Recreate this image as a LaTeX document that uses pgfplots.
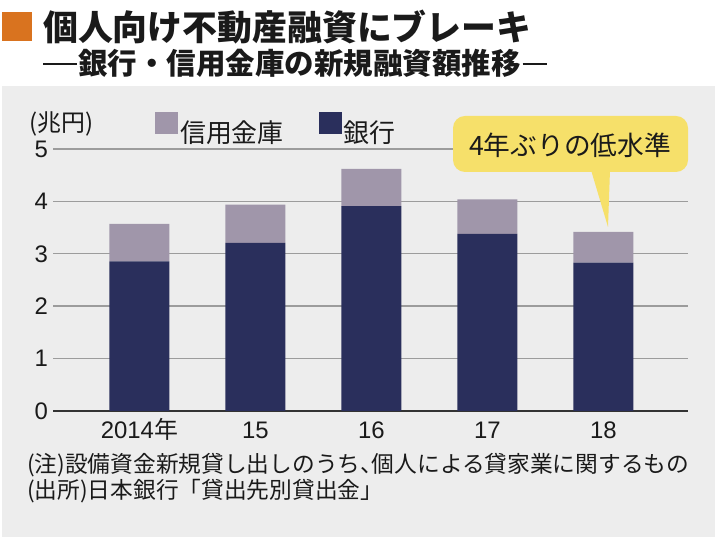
\documentclass[border=0pt]{standalone}
\usepackage{fontspec}
\setmainfont{Liberation Sans}
\newfontfamily\jp{Noto Sans CJK JP}
\usepackage{pgfplots}
\pgfplotsset{compat=1.18}
\definecolor{bank}{HTML}{2A2F5C}
\definecolor{shin}{HTML}{A096AA}
\definecolor{panel}{HTML}{EDEDED}
\definecolor{orng}{HTML}{D9731F}
\definecolor{callout}{HTML}{F6E06A}
\definecolor{txt}{HTML}{1A1A1A}
\definecolor{gridc}{HTML}{9C9C9C}
\newcommand\fs[1]{\fontsize{#1}{#1}\selectfont}
\begin{document}
\begin{tikzpicture}[x=1bp,y=1bp]
\path[use as bounding box] (0,0) rectangle (720,552);
\fill[white] (0,0) rectangle (720,552);
\fill[panel] (2,15) rectangle (715,466);
\fill[orng] (2,511) rectangle (32,540);
\node[anchor=west, inner sep=0pt, text=txt] at (43,525) {\jp\bfseries\fs{35}個人向け不動産融資にブレーキ};
\node[anchor=west, inner sep=0pt, text=txt] at (43,488.5) {\jp\bfseries\fs{29.6}\rule[10bp]{34bp}{1.8bp}\hspace{1bp}銀行・信用金庫の新規融資額推移\hspace{2bp}\rule[10bp]{24bp}{1.8bp}};
\node[anchor=west, inner sep=0pt, text=txt] at (29,428.5) {\jp\fs{24}(兆円)};
\begin{axis}[
  at={(53bp,141bp)}, anchor=south west,
  scale only axis, width=635bp, height=262bp,
  xmin=-0.745, xmax=4.73, ymin=0, ymax=5,
  ybar stacked, bar width=60bp,
  axis y line*=left, axis x line*=bottom,
  y axis line style={draw=none},
  x axis line style={draw=black!80, line width=1.4bp, -},
  ymajorgrids, grid style={draw=gridc, line width=1.4bp},
  major tick length=0pt,
  ytick={0,1,2,3,4,5}, yticklabels={0,1,2,3,4,5},
  yticklabel style={font=\fs{24}, text=txt, inner sep=0pt, xshift=-5bp},
  xtick={0,1,2,3,4}, xticklabels={2014{\jp 年},15,16,17,18},
  xticklabel style={font=\fs{24}, text=txt, anchor=base, yshift=-28bp},
  legend columns=2, reverse legend,
  legend style={at={(0.1606,1.0763)}, anchor=west, draw=none, fill=none, inner sep=0pt,
    font=\jp\fs{26}, text=txt, /tikz/every even column/.append style={column sep=33bp}},
  legend image code/.code={\fill[#1] (0bp,-2bp) rectangle (23bp,20bp);},
  clip=false,
]
\addplot[fill=bank, draw=none] coordinates {(0,2.855) (1,3.21) (2,3.91) (3,3.38) (4,2.83)};
\addlegendentry{銀行}
\addplot[fill=shin, draw=none] coordinates {(0,0.715) (1,0.73) (2,0.71) (3,0.66) (4,0.59)};
\addlegendentry{信用金庫}
\end{axis}
\fill[callout, rounded corners=12bp] (453,380) rectangle (688,436);
\fill[callout] (591,382) -- (610,382) -- (608,325) -- cycle;
\node[text=txt, inner sep=0pt] at (570,407) {\jp\fs{26.8}4年ぶりの低水準};
\node[anchor=west, inner sep=0pt, text=txt] at (27,87) {\jp\fs{22.8}(注)設備資金新規貸し出しのうち、\kern-0.5em個人による貸家業に関するもの};
\node[anchor=west, inner sep=0pt, text=txt] at (27,61) {\jp\fs{22.8}(出所)日本銀行「貸出先別貸出金」};
\end{tikzpicture}
\end{document}
